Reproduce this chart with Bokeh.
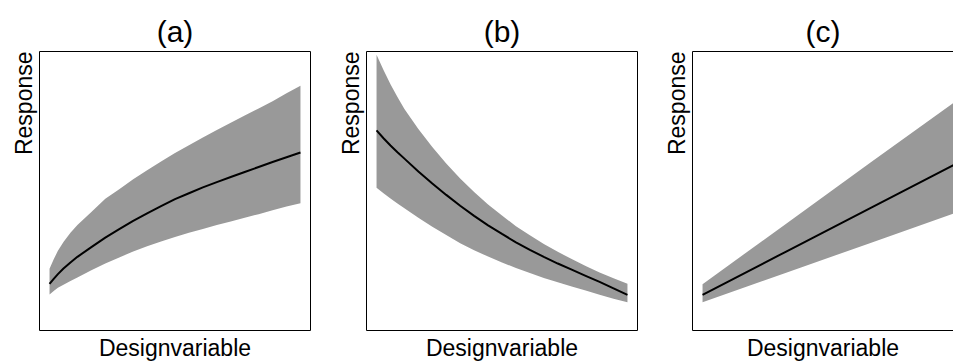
from bokeh.plotting import figure
from bokeh.models import Range1d, LinearAxis, FixedTicker, Title
from bokeh.layouts import row
from bokeh.embed import file_html
from bokeh.resources import INLINE

panel_titles = ["(a)", "(b)", "(c)"]
x_label = "Designvariable"
y_label = "Response"

# panel (a): increasing, concave
a_x = [1, 1.15, 1.3, 1.5, 1.75, 2, 2.5, 3, 3.5, 4, 4.5, 5, 5.5, 6, 6.5, 7, 7.5, 8, 8.5, 9, 9.5, 10]
a_mid = [1.67, 1.85, 2.02, 2.22, 2.44, 2.64, 2.99, 3.33, 3.63, 3.93, 4.20, 4.46, 4.71, 4.92,
         5.13, 5.32, 5.50, 5.68, 5.86, 6.04, 6.21, 6.38]
a_upper = [2.21, 2.55, 2.86, 3.17, 3.50, 3.78, 4.25, 4.72, 5.06, 5.42, 5.74, 6.06, 6.36, 6.64,
           6.92, 7.19, 7.45, 7.71, 7.96, 8.22, 8.50, 8.77]
a_lower = [1.29, 1.42, 1.53, 1.64, 1.77, 1.90, 2.16, 2.40, 2.62, 2.83, 3.02, 3.19, 3.35, 3.50,
           3.64, 3.78, 3.91, 4.04, 4.17, 4.31, 4.44, 4.56]

# panel (b): decreasing, convex
b_x = [1, 1.25, 1.5, 1.75, 2, 2.5, 3, 3.5, 4, 4.5, 5, 5.5, 6, 6.5, 7, 7.5, 8, 8.5, 9, 9.5, 10]
b_mid = [7.17, 6.89, 6.63, 6.39, 6.16, 5.70, 5.27, 4.86, 4.47, 4.11, 3.77, 3.46, 3.16, 2.89,
         2.64, 2.40, 2.18, 1.96, 1.74, 1.51, 1.28]
b_upper = [9.88, 9.34, 8.83, 8.37, 7.94, 7.22, 6.58, 5.99, 5.45, 4.96, 4.52, 4.12, 3.74, 3.41,
           3.10, 2.82, 2.56, 2.31, 2.08, 1.87, 1.68]
b_lower = [5.12, 4.92, 4.73, 4.55, 4.38, 4.04, 3.72, 3.42, 3.13, 2.88, 2.65, 2.44, 2.24, 2.06,
           1.88, 1.73, 1.58, 1.43, 1.28, 1.14, 1.01]

# panel (c): linear
c_x = [1, 4, 7, 10]
c_mid = [1.28, 2.83, 4.38, 5.93]
c_upper = [1.66, 3.83, 6.00, 8.16]
c_lower = [1.01, 2.07, 3.13, 4.19]

FONT = "Liberation Sans"
BAND = "#999999"
LABEL_SIZE = "23px"
X0, X1 = 0.64, 10.36
Y0, Y1 = 0.0, 10.0


def make_axis(loc, p, label=None):
    ax = LinearAxis(ticker=FixedTicker(ticks=[]),
                    major_tick_in=0, major_tick_out=0,
                    minor_tick_in=0, minor_tick_out=0,
                    major_label_text_font_size="0px",
                    major_label_standoff=0,
                    axis_line_color="black", axis_line_width=1)
    if label:
        ax.axis_label = label
        ax.axis_label_text_font = FONT
        ax.axis_label_text_font_size = LABEL_SIZE
        ax.axis_label_text_font_style = "normal"
        ax.axis_label_text_color = "black"
        ax.axis_label_standoff = 4
    p.add_layout(ax, loc)


def make_panel(title, xs, mid, lo, hi, width, left, right, x_end, sides, title_offset=0):
    p = figure(width=width, height=363,
               x_range=Range1d(X0, x_end), y_range=Range1d(Y0, Y1),
               output_backend="svg", toolbar_location=None,
               x_axis_location=None, y_axis_location=None,
               min_border_left=left, min_border_right=right,
               min_border_top=51, min_border_bottom=31)
    p.grid.visible = False
    p.outline_line_color = None
    p.background_fill_color = "white"
    p.border_fill_color = "white"
    for s in sides:
        make_axis(s, p, x_label if s == "below" else None)
    p.varea(x=xs, y1=lo, y2=hi, fill_color=BAND, fill_alpha=1.0)
    p.line(x=xs, y=mid, line_color="black", line_width=2)

    p.title.text = title
    p.title.align = "center"
    p.title.text_font = FONT
    p.title.text_font_size = "30px"
    p.title.text_font_style = "normal"
    p.title.text_color = "black"
    p.title.offset = title_offset
    p.title.standoff = 8

    p.add_layout(Title(text=y_label, align="right", text_font=FONT,
                       text_font_size=LABEL_SIZE, text_font_style="normal",
                       text_color="black", standoff=6), "left")
    return p


pa = make_panel(panel_titles[0], a_x, a_mid, a_lower, a_upper,
                326, 39, 16, X1, ("left", "right", "above", "below"))
pb = make_panel(panel_titles[1], b_x, b_mid, b_lower, b_upper,
                327, 40, 16, X1, ("left", "right", "above", "below"))
c_frame = 261
c_end = X0 + (X1 - X0) * c_frame / 271
pc = make_panel(panel_titles[2], c_x, c_mid, c_lower, c_upper,
                300, 39, 0, c_end, ("left", "above", "below"), title_offset=5)

layout = row(pa, pb, pc)
open("out.html", "w").write(file_html(layout, INLINE))
